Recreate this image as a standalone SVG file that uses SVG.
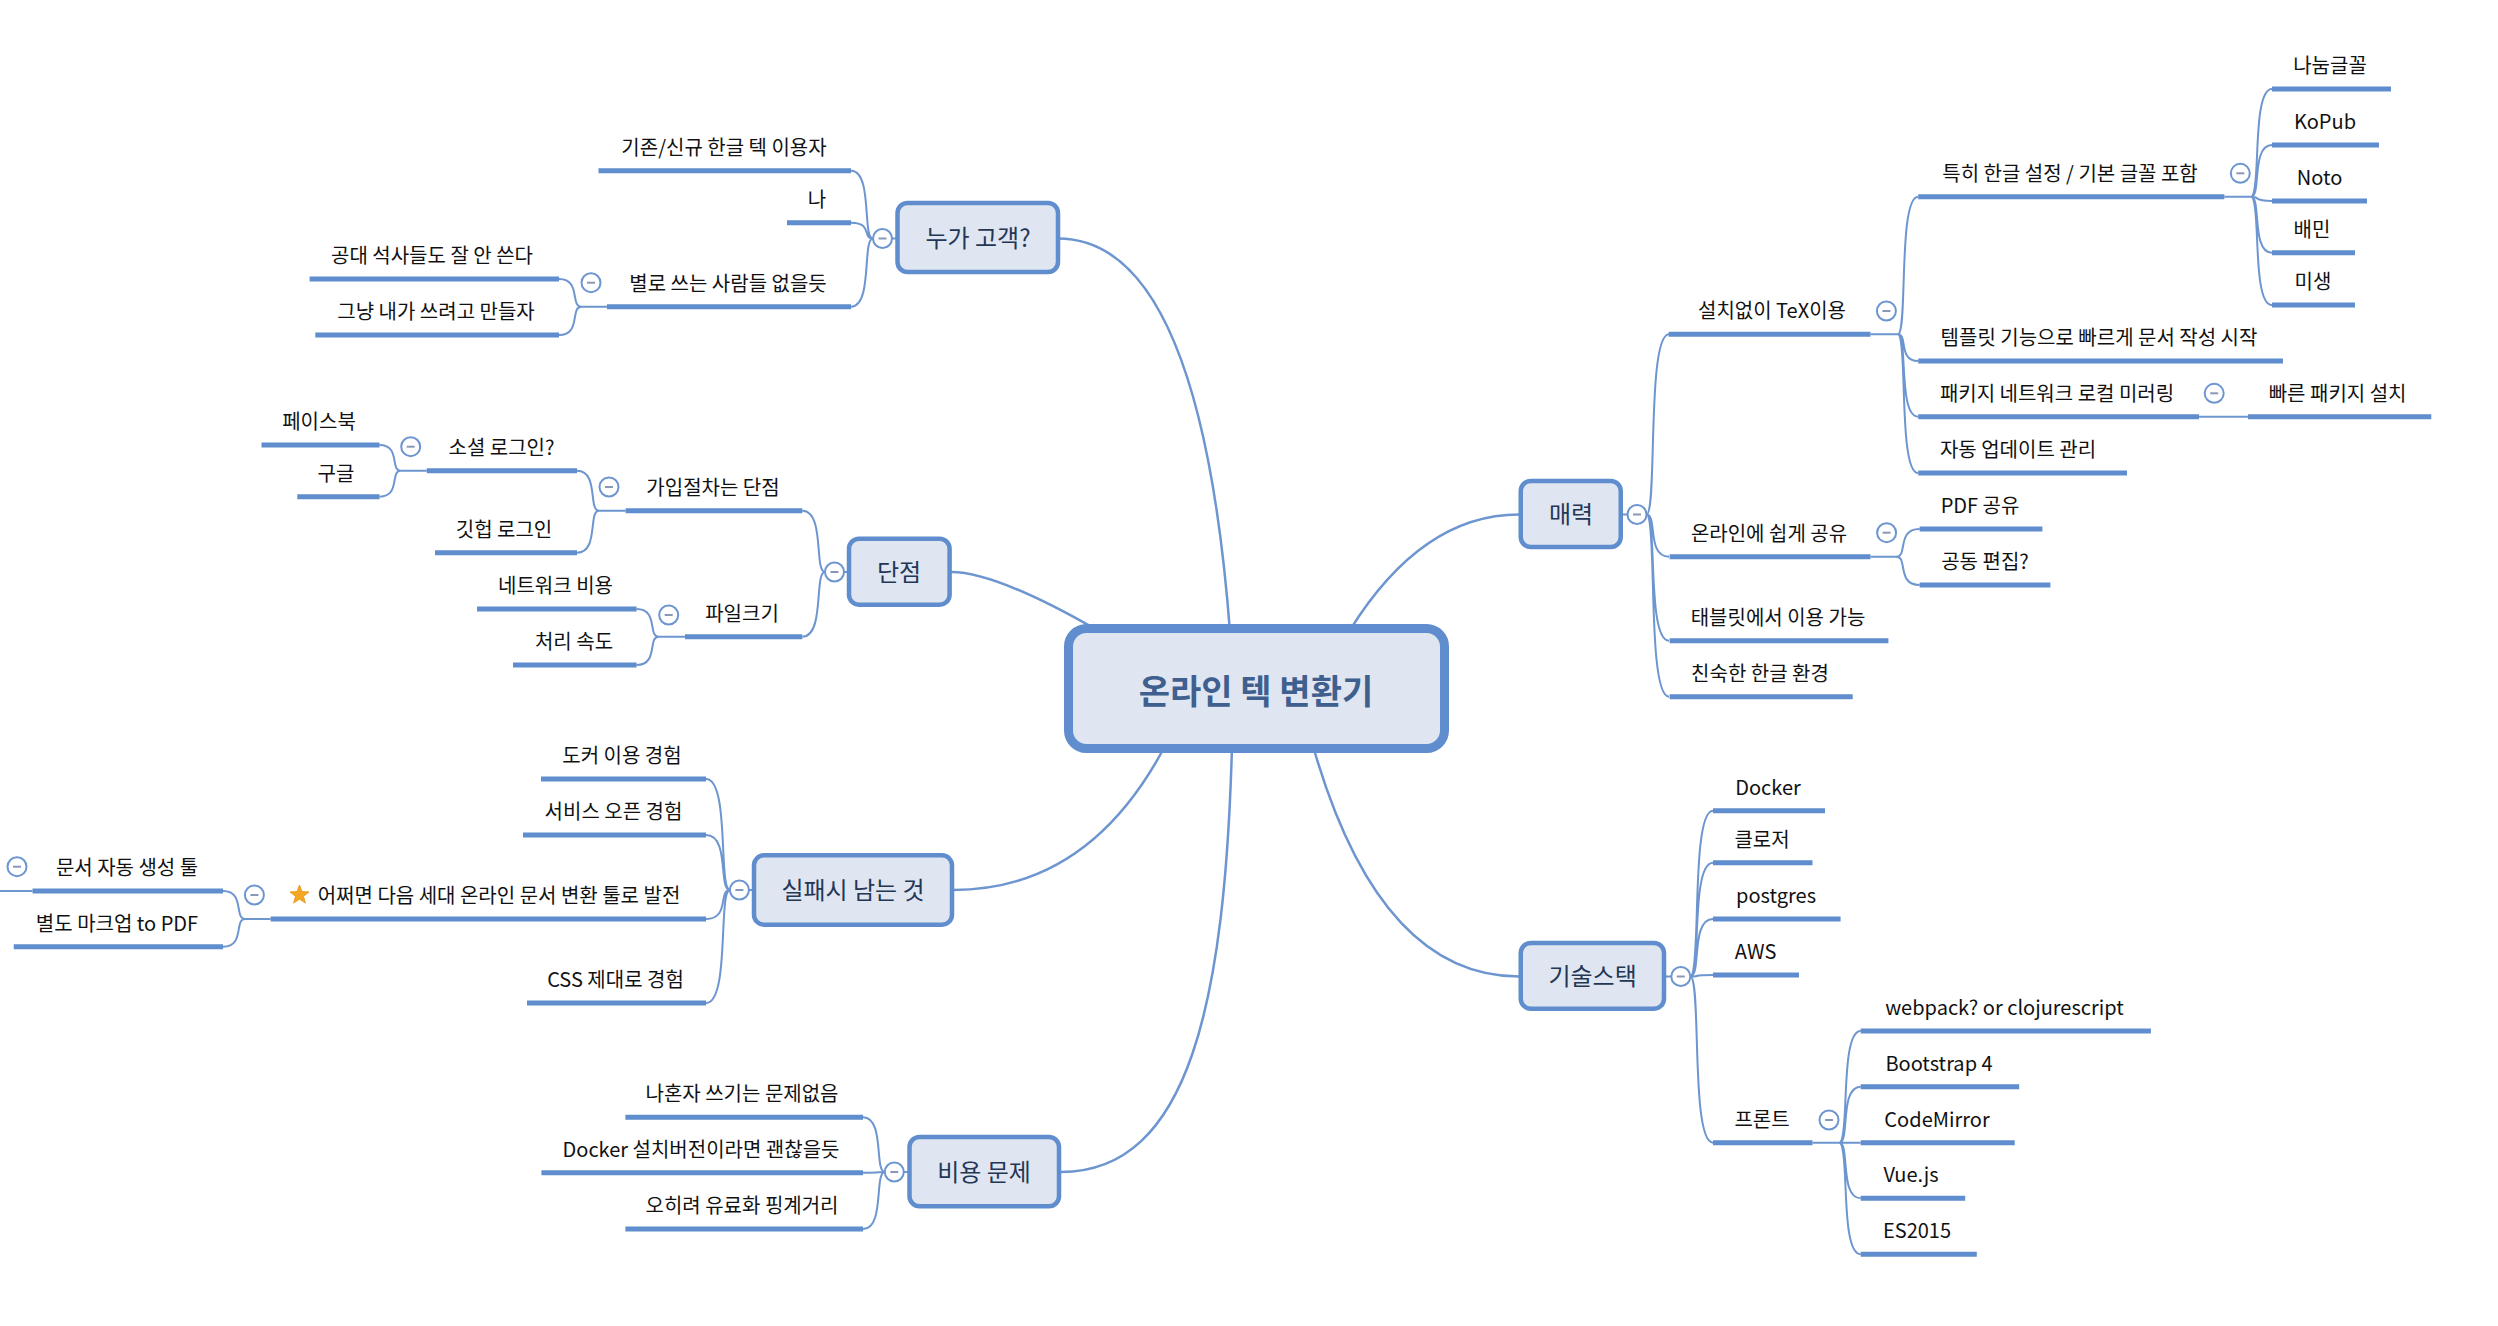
<svg xmlns="http://www.w3.org/2000/svg" xmlns:xlink="http://www.w3.org/1999/xlink" width="2498" height="1326" viewBox="0 0 2498 1326">
<style>
.ul{stroke:#5f8dcd;stroke-width:5;fill:none}
.cn{stroke:#6d95d0;stroke-width:2;fill:none}
.mc{stroke:#6d95d0;stroke-width:2.5;fill:none}
.t{font-family:"Noto Sans CJK KR","Noto Sans","Liberation Sans",sans-serif;font-size:20px;fill:#111;text-anchor:middle}
.mt{font-family:"Noto Sans CJK KR","Noto Sans","Liberation Sans",sans-serif;font-size:24px;fill:#243656;text-anchor:middle}
.box{fill:#dfe6f1;stroke:#5f8dcd;stroke-width:4.5}
</style>
<defs>
<g id="cb"><circle r="9.5" fill="#fff" stroke="#6d95d0" stroke-width="2"/><path d="M-4 0H4" stroke="#8a98b8" stroke-width="2"/></g>
</defs>
<rect width="2498" height="1326" fill="#fff"/>
<g id="connectors">
<path class="mc" d="M1058 238.5 Q1200 238.5 1230 632"/>
<path class="mc" d="M951 572 Q996 572 1097 630"/>
<path class="mc" d="M1350 630 Q1422 514.5 1519 514.5"/>
<path class="mc" d="M1165 746 Q1089 890 953 890"/>
<path class="mc" d="M1232 746 C1225 1000 1190 1172 1061 1172"/>
<path class="mc" d="M1313 746 Q1379 976.5 1519 976.5"/>
<path class="cn" d="M892 238.5H898M873 238.5 C862 238.5 873 170.7 851 170.7M873 238.5 C862 238.5 873 222.7 851 222.7M873 238.5 C862 238.5 873 306.7 851 306.7"/>
<path class="cn" d="M607 306.7H581.3M581.3 306.7 C570 306.7 581.3 279 559 279M581.3 306.7 C570 306.7 581.3 335 559 335"/>
<path class="cn" d="M844 572H849M825 572 C814 572 825 510.7 802.3 510.7M825 572 C814 572 825 636.7 802.3 636.7"/>
<path class="cn" d="M625.6 510.7H599M599 510.7 C588 510.7 599 470.7 577 470.7M599 510.7 C588 510.7 599 552.7 577 552.7"/>
<path class="cn" d="M426.8 470.7H400.6M400.6 470.7 C390 470.7 400.6 445 379.5 445M400.6 470.7 C390 470.7 400.6 496.7 379.5 496.7"/>
<path class="cn" d="M685 636.7H658.6M658.6 636.7 C647.6 636.7 658.6 609 636.6 609M658.6 636.7 C647.6 636.7 658.6 665 636.6 665"/>
<path class="cn" d="M749 890H754M730 890 C718 890 730 779 706 779M730 890 C718 890 730 835 706 835M730 890 C718 890 730 919 706 919M730 890 C718 890 730 1003 706 1003"/>
<path class="cn" d="M270.6 919H245M245 919 C234 919 245 891 223 891M245 919 C234 919 245 946.7 223 946.7"/>
<path class="cn" d="M32.5 891H0"/>
<path class="cn" d="M904 1172H910M885 1172 C874 1172 885 1117.3 863 1117.3M885 1172 C874 1172 885 1172.7 863 1172.7M885 1172 C874 1172 885 1229 863 1229"/>
<path class="cn" d="M1622.5 514.5H1628M1646.5 514.5 C1657.5 514.5 1646.5 334.3 1669 334.3M1646.5 514.5 C1657.5 514.5 1646.5 556.7 1669 556.7M1646.5 514.5 C1657.5 514.5 1646.5 640.7 1669 640.7M1646.5 514.5 C1657.5 514.5 1646.5 696.7 1669 696.7"/>
<path class="cn" d="M1870.5 334.3H1897.8M1897.8 334.3 C1908 334.3 1897.8 196.7 1918.2 196.7M1897.8 334.3 C1908 334.3 1897.8 361 1918.2 361M1897.8 334.3 C1908 334.3 1897.8 416.7 1918.2 416.7M1897.8 334.3 C1908 334.3 1897.8 473 1918.2 473"/>
<path class="cn" d="M2224.4 196.7H2251M2251 196.7 C2261.5 196.7 2251 89 2272 89M2251 196.7 C2261.5 196.7 2251 145 2272 145M2251 196.7 C2261.5 196.7 2251 201 2272 201M2251 196.7 C2261.5 196.7 2251 252.7 2272 252.7M2251 196.7 C2261.5 196.7 2251 305 2272 305"/>
<path class="cn" d="M2199 416.7H2248"/>
<path class="cn" d="M1870.5 556.7H1896.4M1896.4 556.7 C1908 556.7 1896.4 529 1919.6 529M1896.4 556.7 C1908 556.7 1896.4 585 1919.6 585"/>
<path class="cn" d="M1665.5 976.5H1671M1690.3 976.5 C1701.6 976.5 1690.3 810.7 1713 810.7M1690.3 976.5 C1701.6 976.5 1690.3 862.7 1713 862.7M1690.3 976.5 C1701.6 976.5 1690.3 919 1713 919M1690.3 976.5 C1701.6 976.5 1690.3 975 1713 975M1690.3 976.5 C1701.6 976.5 1690.3 1142.7 1713 1142.7"/>
<path class="cn" d="M1812.5 1142.7H1839.3M1839.3 1142.7 C1850 1142.7 1839.3 1031 1860.7 1031M1839.3 1142.7 C1850 1142.7 1839.3 1086.7 1860.7 1086.7M1839.3 1142.7 C1850 1142.7 1839.3 1142.7 1860.7 1142.7M1839.3 1142.7 C1850 1142.7 1839.3 1198.3 1860.7 1198.3M1839.3 1142.7 C1850 1142.7 1839.3 1254.3 1860.7 1254.3"/>
</g>

<g id="central">
<rect x="1068.5" y="628.5" width="376" height="120" rx="18" fill="#dfe6f1" stroke="#5f8dcd" stroke-width="9"/>
<text x="1256" y="704" font-family="Noto Sans CJK KR, Liberation Sans, sans-serif" font-size="34" font-weight="bold" fill="#3f5f8f" text-anchor="middle">온라인 텍 변환기</text>
</g>

<g id="who">
<rect class="box" x="897.5" y="203" width="160.5" height="69" rx="10"/>
<text class="mt" x="978" y="247">누가 고객?</text>
<use xlink:href="#cb" href="#cb" transform="translate(882.5,238.5)"/>
</g>
<g id="who-1"><line class="ul" x1="598.5" y1="170.7" x2="851" y2="170.7"/><text class="t" x="724" y="155">기존/신규 한글 텍 이용자</text></g>
<g id="who-2"><line class="ul" x1="787" y1="222.7" x2="851" y2="222.7"/><text class="t" x="817" y="207">나</text></g>
<g id="who-3"><line class="ul" x1="607" y1="306.7" x2="851" y2="306.7"/><text class="t" x="728" y="291">별로 쓰는 사람들 없을듯</text><use xlink:href="#cb" href="#cb" transform="translate(591,282.7)"/></g>
<g id="who-3-1"><line class="ul" x1="309.6" y1="279" x2="559" y2="279"/><text class="t" x="432" y="263">공대 석사들도 잘 안 쓴다</text></g>
<g id="who-3-2"><line class="ul" x1="315.3" y1="335" x2="559" y2="335"/><text class="t" x="436" y="319">그냥 내가 쓰려고 만들자</text></g>

<g id="cons">
<rect class="box" x="849" y="538.7" width="100.6" height="66" rx="10"/>
<text class="mt" x="899" y="581">단점</text>
<use xlink:href="#cb" href="#cb" transform="translate(834.5,572)"/>
</g>
<g id="cons-1"><line class="ul" x1="625.6" y1="510.7" x2="802.3" y2="510.7"/><text class="t" x="713" y="495">가입절차는 단점</text><use xlink:href="#cb" href="#cb" transform="translate(609,487)"/></g>
<g id="cons-1-1"><line class="ul" x1="426.8" y1="470.7" x2="577" y2="470.7"/><text class="t" x="501.5" y="454.5">소셜 로그인?</text><use xlink:href="#cb" href="#cb" transform="translate(410.7,446.7)"/></g>
<g id="cons-1-1-1"><line class="ul" x1="261.5" y1="445" x2="379.5" y2="445"/><text class="t" x="319" y="429">페이스북</text></g>
<g id="cons-1-1-2"><line class="ul" x1="297.3" y1="496.7" x2="379.5" y2="496.7"/><text class="t" x="336" y="480.5">구글</text></g>
<g id="cons-1-2"><line class="ul" x1="435" y1="552.7" x2="577" y2="552.7"/><text class="t" x="504" y="536.5">깃헙 로그인</text></g>
<g id="cons-2"><line class="ul" x1="685" y1="636.7" x2="802.3" y2="636.7"/><text class="t" x="742" y="620.5">파일크기</text><use xlink:href="#cb" href="#cb" transform="translate(668.7,615)"/></g>
<g id="cons-2-1"><line class="ul" x1="477" y1="609" x2="636.6" y2="609"/><text class="t" x="555.5" y="593">네트워크 비용</text></g>
<g id="cons-2-2"><line class="ul" x1="513" y1="665" x2="636.6" y2="665"/><text class="t" x="574" y="649">처리 속도</text></g>

<g id="fail">
<rect class="box" x="754" y="855.3" width="198" height="69.4" rx="10"/>
<text class="mt" x="853" y="899">실패시 남는 것</text>
<use xlink:href="#cb" href="#cb" transform="translate(739.4,890)"/>
</g>
<g id="fail-1"><line class="ul" x1="541" y1="779" x2="706" y2="779"/><text class="t" x="622" y="763">도커 이용 경험</text></g>
<g id="fail-2"><line class="ul" x1="523" y1="835" x2="706" y2="835"/><text class="t" x="613.5" y="819">서비스 오픈 경험</text></g>
<g id="fail-3"><line class="ul" x1="270.6" y1="919" x2="706" y2="919"/>
<polygon transform="translate(299.5,895)" points="0,-10 2.47,-3.4 9.51,-3.09 3.99,1.3 5.88,8.09 0,4.2 -5.88,8.09 -3.99,1.3 -9.51,-3.09 -2.47,-3.4" fill="#f5a623" stroke="#e39212" stroke-width="0.8"/>
<text class="t" x="499" y="903">어쩌면 다음 세대 온라인 문서 변환 툴로 발전</text><use xlink:href="#cb" href="#cb" transform="translate(254.4,895)"/></g>
<g id="fail-3-1"><line class="ul" x1="32.5" y1="891" x2="223" y2="891"/><text class="t" x="127" y="875">문서 자동 생성 툴</text><use xlink:href="#cb" href="#cb" transform="translate(17,866.7)"/></g>
<g id="fail-3-2"><line class="ul" x1="13.75" y1="946.7" x2="223" y2="946.7"/><text class="t" x="117" y="930.5">별도 마크업 to PDF</text></g>
<g id="fail-4"><line class="ul" x1="527" y1="1003" x2="706" y2="1003"/><text class="t" x="615.5" y="987">CSS 제대로 경험</text></g>

<g id="cost">
<rect class="box" x="909.5" y="1137" width="149.5" height="69.3" rx="10"/>
<text class="mt" x="984" y="1181">비용 문제</text>
<use xlink:href="#cb" href="#cb" transform="translate(894.3,1172)"/>
</g>
<g id="cost-1"><line class="ul" x1="625.4" y1="1117.3" x2="863" y2="1117.3"/><text class="t" x="742" y="1101">나혼자 쓰기는 문제없음</text></g>
<g id="cost-2"><line class="ul" x1="541.4" y1="1172.7" x2="863" y2="1172.7"/><text class="t" x="701" y="1156.7">Docker 설치버전이라면 괜찮을듯</text></g>
<g id="cost-3"><line class="ul" x1="625.4" y1="1229" x2="863" y2="1229"/><text class="t" x="742" y="1213">오히려 유료화 핑계거리</text></g>

<g id="charm">
<rect class="box" x="1520.75" y="481" width="100" height="66" rx="10"/>
<text class="mt" x="1571" y="523">매력</text>
<use xlink:href="#cb" href="#cb" transform="translate(1637,514.5)"/>
</g>
<g id="charm-1"><line class="ul" x1="1668.7" y1="334.3" x2="1870.5" y2="334.3"/><text class="t" x="1772" y="318.3">설치없이 TeX이용</text><use xlink:href="#cb" href="#cb" transform="translate(1886.4,311)"/></g>
<g id="charm-1-1"><line class="ul" x1="1918.2" y1="196.7" x2="2224.4" y2="196.7"/><text class="t" x="2070" y="180.7">특히 한글 설정 / 기본 글꼴 포함</text><use xlink:href="#cb" href="#cb" transform="translate(2240.3,173.3)"/></g>
<g id="font-1"><line class="ul" x1="2272" y1="89" x2="2391" y2="89"/><text class="t" x="2330" y="73">나눔글꼴</text></g>
<g id="font-2"><line class="ul" x1="2272" y1="145" x2="2379" y2="145"/><text class="t" x="2325" y="129">KoPub</text></g>
<g id="font-3"><line class="ul" x1="2272" y1="201" x2="2367" y2="201"/><text class="t" x="2319.5" y="185">Noto</text></g>
<g id="font-4"><line class="ul" x1="2272" y1="252.7" x2="2355" y2="252.7"/><text class="t" x="2312" y="236.7">배민</text></g>
<g id="font-5"><line class="ul" x1="2272" y1="305" x2="2355" y2="305"/><text class="t" x="2313" y="289">미생</text></g>
<g id="charm-1-2"><line class="ul" x1="1918.2" y1="361" x2="2283" y2="361"/><text class="t" x="2099" y="345">템플릿 기능으로 빠르게 문서 작성 시작</text></g>
<g id="charm-1-3"><line class="ul" x1="1918.2" y1="416.7" x2="2199" y2="416.7"/><text class="t" x="2057" y="400.7">패키지 네트워크 로컬 미러링</text><use xlink:href="#cb" href="#cb" transform="translate(2214.2,393.3)"/></g>
<g id="charm-1-3-1"><line class="ul" x1="2248" y1="416.7" x2="2431.3" y2="416.7"/><text class="t" x="2337.6" y="400.7">빠른 패키지 설치</text></g>
<g id="charm-1-4"><line class="ul" x1="1918.2" y1="473" x2="2127" y2="473"/><text class="t" x="2018" y="457">자동 업데이트 관리</text></g>
<g id="charm-2"><line class="ul" x1="1669.6" y1="556.7" x2="1870.5" y2="556.7"/><text class="t" x="1769" y="540.7">온라인에 쉽게 공유</text><use xlink:href="#cb" href="#cb" transform="translate(1886.6,532.7)"/></g>
<g id="charm-2-1"><line class="ul" x1="1919.6" y1="529" x2="2042.4" y2="529"/><text class="t" x="1980" y="513">PDF 공유</text></g>
<g id="charm-2-2"><line class="ul" x1="1919.6" y1="585" x2="2050.4" y2="585"/><text class="t" x="1985" y="569">공동 편집?</text></g>
<g id="charm-3"><line class="ul" x1="1669.6" y1="640.7" x2="1888.4" y2="640.7"/><text class="t" x="1778" y="624.7">태블릿에서 이용 가능</text></g>
<g id="charm-4"><line class="ul" x1="1669.6" y1="696.7" x2="1852.7" y2="696.7"/><text class="t" x="1760" y="680.7">친숙한 한글 환경</text></g>

<g id="stack">
<rect class="box" x="1520.75" y="943" width="143.25" height="65.7" rx="10"/>
<text class="mt" x="1592.6" y="985">기술스택</text>
<use xlink:href="#cb" href="#cb" transform="translate(1680.8,976.5)"/>
</g>
<g id="stack-1"><line class="ul" x1="1713" y1="810.7" x2="1825" y2="810.7"/><text class="t" x="1768" y="794.7">Docker</text></g>
<g id="stack-2"><line class="ul" x1="1713" y1="862.7" x2="1812.5" y2="862.7"/><text class="t" x="1762" y="846.7">클로저</text></g>
<g id="stack-3"><line class="ul" x1="1713" y1="919" x2="1840.6" y2="919"/><text class="t" x="1776" y="903">postgres</text></g>
<g id="stack-4"><line class="ul" x1="1713" y1="975" x2="1799" y2="975"/><text class="t" x="1755.6" y="959">AWS</text></g>
<g id="stack-5"><line class="ul" x1="1713" y1="1142.7" x2="1812.5" y2="1142.7"/><text class="t" x="1762" y="1126.7">프론트</text><use xlink:href="#cb" href="#cb" transform="translate(1829,1120)"/></g>
<g id="front-1"><line class="ul" x1="1860.7" y1="1031" x2="2150.9" y2="1031"/><text class="t" x="2004.5" y="1015">webpack? or clojurescript</text></g>
<g id="front-2"><line class="ul" x1="1860.7" y1="1086.7" x2="2019.2" y2="1086.7"/><text class="t" x="1939" y="1070.7">Bootstrap 4</text></g>
<g id="front-3"><line class="ul" x1="1860.7" y1="1142.7" x2="2014.7" y2="1142.7"/><text class="t" x="1937" y="1126.7">CodeMirror</text></g>
<g id="front-4"><line class="ul" x1="1860.7" y1="1198.3" x2="1965.2" y2="1198.3"/><text class="t" x="1911" y="1182.3">Vue.js</text></g>
<g id="front-5"><line class="ul" x1="1860.7" y1="1254.3" x2="1976.8" y2="1254.3"/><text class="t" x="1917" y="1238.3">ES2015</text></g>
</svg>
